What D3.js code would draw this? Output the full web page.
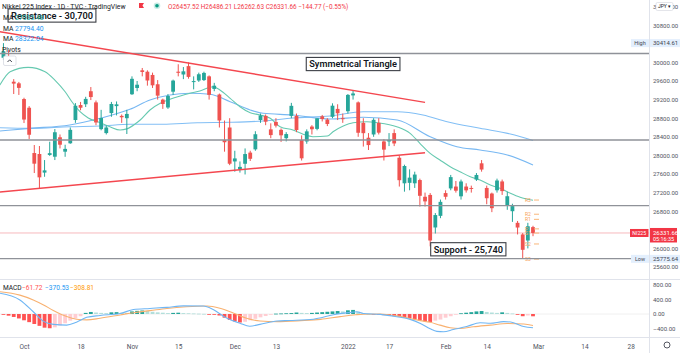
<!DOCTYPE html>
<html>
<head>
<meta charset="utf-8">
<script src="https://d3js.org/d3.v7.min.js"></script>
<style>
body{margin:0;background:#fff;}
text{font-family:Roboto,"Liberation Sans",sans-serif;}
</style>
</head>
<body>
<script>
// daily bars, Sep 27 2021 .. Feb 28 2022 : [date, open, high, low, close]
var ohlc = [
["2021-09-27",30100,30414.61,30050,30240],["2021-09-28",30200,30260,30080,30183],
["2021-09-29",29585,29640,29320,29544],["2021-09-30",29550,29580,29300,29452],
["2021-10-01",29212,29240,28696,28771],["2021-10-04",29025,29060,28353,28444],
["2021-10-05",28051,28223,27621,27822],["2021-10-06",28030,28202,27293,27528],
["2021-10-07",27630,27900,27540,27678],["2021-10-08",28010,28294,27990,28048],
["2021-10-11",27972,28567,27900,28498],["2021-10-12",28390,28450,28150,28230],
["2021-10-13",28080,28230,27970,28140],["2021-10-14",28260,28600,28250,28550],
["2021-10-15",28761,29125,28700,29068],["2021-10-18",29083,29150,28970,29025],
["2021-10-19",29100,29260,29040,29215],["2021-10-20",29380,29470,29190,29255],
["2021-10-21",29140,29180,28650,28708],["2021-10-22",28565,28980,28540,28804],
["2021-10-25",28480,28640,28450,28600],["2021-10-26",28910,29150,28830,29106],
["2021-10-27",29060,29160,28860,29098],["2021-10-28",28850,28880,28700,28820],
["2021-10-29",28800,28980,28460,28892],["2021-11-01",29315,29700,29300,29647],
["2021-11-02",29450,29600,29380,29520],["2021-11-04",29830,29880,29700,29794],
["2021-11-05",29800,29830,29500,29611],["2021-11-08",29730,29780,29450,29507],
["2021-11-09",29530,29620,29200,29285],["2021-11-10",29200,29220,29000,29106],
["2021-11-11",29030,29320,29000,29277],["2021-11-12",29370,29630,29300,29609],
["2021-11-15",29800,29960,29700,29776],["2021-11-16",29740,29900,29640,29808],
["2021-11-17",29920,30000,29650,29688],["2021-11-18",29590,29700,29420,29598],
["2021-11-19",29610,29780,29580,29745],["2021-11-22",29620,29800,29600,29774],
["2021-11-24",29700,29720,29200,29302],["2021-11-25",29430,29560,29380,29499],
["2021-11-26",29310,29330,28600,28751],["2021-11-29",28330,28750,28080,28283],
["2021-11-30",28600,28800,27790,27821],["2021-12-01",27870,28100,27650,27935],
["2021-12-02",27700,27870,27630,27753],["2021-12-03",27820,28150,27590,28029],
["2021-12-06",28060,28100,27880,27927],["2021-12-07",28130,28520,28100,28455],
["2021-12-08",28760,28900,28700,28860],["2021-12-09",28850,28880,28650,28725],
["2021-12-10",28560,28690,28370,28437],["2021-12-13",28720,28800,28600,28640],
["2021-12-14",28550,28580,28290,28432],["2021-12-15",28370,28500,28300,28459],
["2021-12-16",28850,29130,28800,29066],["2021-12-17",28850,28900,28500,28545],
["2021-12-20",28330,28430,27890,27937],["2021-12-21",28300,28560,28250,28517],
["2021-12-22",28620,28650,28450,28562],["2021-12-23",28570,28800,28540,28798],
["2021-12-24",28840,28870,28730,28782],["2021-12-27",28770,28800,28630,28676],
["2021-12-28",28830,29120,28800,29069],["2021-12-29",29000,29100,28760,28906],
["2021-12-30",28800,28900,28700,28791],["2022-01-04",28950,29320,28900,29301],
["2022-01-05",29290,29388,29200,29332],["2022-01-06",29140,29160,28400,28487],
["2022-01-07",28700,28800,28190,28478],["2022-01-11",28380,28480,28116,28222],
["2022-01-12",28450,28800,28400,28765],["2022-01-13",28700,28800,28450,28489],
["2022-01-14",28300,28350,27890,28124],["2022-01-17",28300,28480,28200,28333],
["2022-01-18",28480,28560,28200,28257],["2022-01-19",27950,28000,27330,27467],
["2022-01-20",27400,27800,27220,27772],["2022-01-21",27410,27700,27250,27522],
["2022-01-24",27400,27650,27300,27588],["2022-01-25",27470,27500,26900,27131],
["2022-01-26",27110,27200,26900,27011],["2022-01-27",27150,27190,26044,26170],
["2022-01-28",26450,26760,26320,26717],["2022-01-31",26700,27050,26650,27001],
["2022-02-01",27190,27250,27050,27110],["2022-02-02",27290,27580,27250,27533],
["2022-02-03",27330,27450,27200,27241],["2022-02-04",27120,27480,27050,27439],
["2022-02-07",27330,27400,27200,27248],["2022-02-08",27300,27350,27200,27284],
["2022-02-09",27480,27620,27450,27579],["2022-02-10",27830,27900,27650,27696],
["2022-02-14",27300,27350,26950,27079],["2022-02-15",27180,27200,26780,26865],
["2022-02-16",27250,27500,27200,27460],["2022-02-17",27440,27480,27150,27232],
["2022-02-18",26930,27220,26830,27122],["2022-02-21",26800,26960,26570,26910],
["2022-02-22",26550,26590,26300,26449],["2022-02-24",26300,26330,25775.64,25970],
["2022-02-25",26170,26550,26000,26476],["2022-02-28",26457.52,26486.21,26262.63,26331.66]
];

var sma20 = [[-0.7,29513],[1.3,29800],[4.8,29894],[8.1,29800],[10,29621],[12,29369],[13.5,29126],
  [14.9,28939],[16.5,28804],[18.8,28703],[20.7,28617],[22.7,28546],[24,28570],[25.6,28675],
  [26.6,28761],[28.5,28976],[30.5,29120],[32.4,29206],[34.4,29277],[36.3,29335],[38.2,29384],
  [40.8,29477],[42.1,29406],[44.1,29228],[46,29047],[48,28918],[49.9,28870],[51.9,28798],
  [53.8,28617],[56.3,28546],[58.3,28454],[60.2,28402],[63,28417],[64.1,28509],[66.1,28632],
  [68,28703],[70.7,28724],[72.7,28703],[76.5,28617],[79.1,28475],[81,28260],[83,28045],
  [84.9,27901],[86.9,27757],[88.8,27649],[90.8,27541],[92.7,27471],[94.7,27363],[96.6,27292],
  [98.6,27184],[100.5,27099],[103,27035.48]];
var sma50 = [[-0.7,28525],[5.2,28582],[12.9,28654],[18.8,28798],[24.6,28991],[28.5,29191],
  [32.4,29299],[36.3,29335],[40.2,29314],[44.1,29154],[48,28976],[50.5,28905],[56.3,28869],
  [63.5,28783],[70,28819],[76.6,28761],[83,28402],[88.2,28187],[92.7,28116],[98,28009],[103,27794.4]];
var sma100 = [[-0.7,28595],[5.2,28582],[12.9,28617],[18.8,28632],[24.6,28669],[31,28669],
  [37.7,28703],[44.1,28712],[50.5,28740],[56.3,28804],[63.5,28847],[70,28939],[76.6,28939],
  [81.6,28869],[86.3,28724],[92.7,28583],[98.6,28460],[103,28322.04]];

// MACD pane
var macdLine = [[-0.7,560],[3.2,380],[5.8,60],[7.8,-200],[9.7,-280],[12.3,-300],[14.2,-220],
  [16.2,-90],[18.8,-40],[22.7,15],[25.3,120],[28.5,150],[31.8,180],[35,220],[38.9,215],[40.8,120],
  [43.4,-110],[46,-250],[47.9,-330],[49.9,-280],[53.2,-190],[55.7,-175],[60.3,-140],[64.2,-20],
  [67.4,40],[68.7,60],[70,15],[73.3,-10],[76.5,-75],[79.1,-145],[81.1,-255],[83,-400],[84.3,-470],
  [85.6,-480],[87.5,-420],[90.1,-340],[92.7,-235],[94.7,-250],[97.3,-205],[99.2,-235],[101.2,-340],
  [103,-370.53]];
var signalLine = [[-0.7,600],[3.2,510],[5.8,380],[7.8,245],[9.7,95],[12.3,-70],[14.2,-140],
  [16.2,-160],[18.8,-115],[22.7,-25],[25.3,35],[28.5,90],[31.8,150],[35.6,195],[39.6,215],
  [42.1,155],[44.8,20],[47.3,-115],[49.9,-190],[53.2,-205],[57.8,-180],[61.7,-145],[65.5,-70],
  [68.5,-20],[70,-5],[73.3,0],[76.5,-50],[79.1,-120],[81.1,-180],[83,-225],[84.9,-300],
  [86.9,-370],[88.8,-390],[91.4,-345],[94.7,-300],[98,-255],[101.2,-270],[103,-308.81]];
var macdHist = [-20,-45,-80,-120,-170,-220,-270,-320,-370,-385,-360,-310,-250,-180,-120,-60,
  30,55,40,30,25,45,50,35,30,70,85,95,80,60,45,35,25,30,35,25,20,15,10,5,
  -10,-15,-40,-100,-160,-200,-230,-210,-170,-130,-90,-55,-20,10,15,20,25,40,30,25,
  30,40,50,60,70,80,70,100,110,60,20,5,-10,-20,-30,-50,-60,-70,-100,-110,
  -140,-170,-195,-215,-180,-150,-100,-60,-20,20,35,50,70,80,55,40,30,45,30,15,
  -10,-60,-40,-61.72];

// drawings
var levels = [30190, 28330, 26920, 25780];
var upperTrend = [[-0.7,30659],[82,29141]];
var lowerTrend = [[-0.7,27213],[82,28058]];
var pivotNames = ["R3","R2","R1","P","S1","S2","S3"];
var pivotVals = [27040, 26735, 26625, 26420, 26330, 26095, 25770];
var notes = [
  {text:"Resistance - 30,700", bar:0.9, price:31008},
  {text:"Symmetrical Triangle", bar:58.9, price:29965},
  {text:"Support - 25,740", bar:83.1, price:25981}
];

// axes
var priceTicks = [25600,26000,26800,27200,27600,28000,28400,28800,29200,29600,30000,30800,31200];
var macdTicks = [800,400,0,-400];
var timeBars = [4,15,25,34,45,53,67,75,86,94,104,113,122];
var timeLabels = ["Oct","18","Nov","15","Dec","13","2022","17","Feb","14","Mar","14","28"];

var W = 680, H = 353, axisX = 649;
var red = "#ef5350", green = "#26a69a";

var svg = d3.select("body").append("svg").attr("width", W).attr("height", H)
    .style("background", "#fff");

var x = d3.scaleLinear().domain([0, 103]).range([3.44, 533]);
var y = d3.scaleLinear().domain([25600, 30800]).range([267, 25.2]);
var ym = d3.scaleLinear().domain([-400, 800]).range([328.8, 284.4]);

var defs = svg.append("defs");
defs.append("clipPath").attr("id", "mainClip").append("rect")
    .attr("x", 0).attr("y", 0).attr("width", axisX).attr("height", 278);
defs.append("clipPath").attr("id", "macdClip").append("rect")
    .attr("x", 0).attr("y", 280).attr("width", axisX).attr("height", 57);

var main = svg.append("g").attr("clip-path", "url(#mainClip)");
var pane = svg.append("g").attr("clip-path", "url(#macdClip)");

//pane separators
svg.append("line").attr("x1", 0).attr("x2", W).attr("y1", 279.5).attr("y2", 279.5).attr("stroke", "#e0e3eb");
svg.append("line").attr("x1", 0).attr("x2", W).attr("y1", 337.5).attr("y2", 337.5).attr("stroke", "#e0e3eb");
svg.append("line").attr("x1", axisX + 0.5).attr("x2", axisX + 0.5).attr("y1", 0).attr("y2", H).attr("stroke", "#e0e3eb");

//last price line
var last = ohlc[ohlc.length - 1];
main.append("line").attr("x1", 0).attr("x2", axisX).attr("y1", y(last[4])).attr("y2", y(last[4]))
    .attr("stroke", "#f7b9bd").attr("stroke-width", 1);

//moving averages
var maLine = d3.line().x(function(d){ return x(d[0]); }).y(function(d){ return y(d[1]); })
    .curve(d3.curveMonotoneX);
main.append("path").attr("d", maLine(sma100)).attr("fill", "none").attr("stroke", "#82bff5").attr("stroke-width", 1.1);
main.append("path").attr("d", maLine(sma50)).attr("fill", "none").attr("stroke", "#78b8f2").attr("stroke-width", 1.1);
main.append("path").attr("d", maLine(sma20)).attr("fill", "none").attr("stroke", "#66c9b0").attr("stroke-width", 1.1);

//candles
var candles = main.selectAll(".candle").data(ohlc).enter().append("g").attr("class", "candle");
candles.append("line")
    .attr("x1", function(d, i){ return x(i); }).attr("x2", function(d, i){ return x(i); })
    .attr("y1", function(d){ return y(d[2]); }).attr("y2", function(d){ return y(d[3]); })
    .attr("stroke", function(d){ return d[4] >= d[1] ? green : red; }).attr("stroke-width", 1);
candles.append("rect")
    .attr("x", function(d, i){ return x(i) - 1.9; })
    .attr("width", 3.8)
    .attr("y", function(d){ return y(Math.max(d[1], d[4])); })
    .attr("height", function(d){ return Math.max(1, Math.abs(y(d[1]) - y(d[4]))); })
    .attr("fill", function(d){ return d[4] >= d[1] ? green : red; });

//pivot labels for the current week
var pv = main.selectAll(".pivot").data(pivotVals).enter().append("g").attr("class", "pivot");
pv.append("line").attr("x1", x(103) + 1).attr("x2", x(103) + 6)
    .attr("y1", function(d){ return y(d); }).attr("y2", function(d){ return y(d); })
    .attr("stroke", "#f9b67a").attr("stroke-width", 1);
pv.append("text").attr("x", x(103) - 8).attr("y", function(d){ return y(d) + 2; })
    .attr("font-size", 5).attr("fill", "#f7a25a")
    .text(function(d, i){ return pivotNames[i]; });

//horizontal levels
main.selectAll(".level").data(levels).enter().append("line").attr("class", "level")
    .attr("x1", 0).attr("x2", axisX)
    .attr("y1", function(d){ return y(d); }).attr("y2", function(d){ return y(d); })
    .attr("stroke", "#8f9299").attr("stroke-width", 1.4);

//triangle lines
var tl = d3.line().x(function(d){ return x(d[0]); }).y(function(d){ return y(d[1]); });
[upperTrend, lowerTrend].forEach(function(t){
    main.append("path").attr("d", tl(t)).attr("stroke", "#f4474f").attr("stroke-width", 1.4).attr("fill", "none");
});

//text notes in boxes
notes.forEach(function(n){
    var g = svg.append("g");
    var t = g.append("text").attr("x", x(n.bar) + 3).attr("y", y(n.price) + 3.3)
        .attr("font-size", 9.2).attr("font-weight", 600).attr("fill", "#131722").text(n.text);
    var w = t.node().getComputedTextLength();
    g.insert("rect", "text").attr("x", x(n.bar)).attr("y", y(n.price) - 6.6)
        .attr("width", w + 6).attr("height", 13.2)
        .attr("fill", "#fff").attr("stroke", "#3b3e45").attr("stroke-width", 1.1);
});

//MACD histogram and lines
pane.append("line").attr("x1", 0).attr("x2", axisX).attr("y1", ym(0)).attr("y2", ym(0))
    .attr("stroke", "#f0f0f0");
pane.selectAll(".hist").data(macdHist).enter().append("rect").attr("class", "hist")
    .attr("x", function(d, i){ return x(i) - 1.9; })
    .attr("width", 3.8)
    .attr("y", function(d){ return ym(Math.max(0, d)); })
    .attr("height", function(d){ return Math.max(0.8, Math.abs(ym(d) - ym(0))); })
    .attr("fill", function(d, i){
        var prev = i > 0 ? macdHist[i - 1] : d;
        if (d >= 0) return d >= prev ? "#26a69a" : "#b2dfdb";
        return d <= prev ? "#ff5252" : "#ffcdd2";
    });
var mLine = d3.line().x(function(d){ return x(d[0]); }).y(function(d){ return ym(d[1]); })
    .curve(d3.curveMonotoneX);
pane.append("path").attr("d", mLine(signalLine)).attr("fill", "none").attr("stroke", "#f8b170").attr("stroke-width", 1.1);
pane.append("path").attr("d", mLine(macdLine)).attr("fill", "none").attr("stroke", "#6fb6f4").attr("stroke-width", 1.1);

//price axis
var yAxis = d3.axisRight(y).tickValues(priceTicks).tickSize(0).tickPadding(4).tickFormat(d3.format(".2f"));
var ya = svg.append("g").attr("transform", "translate(" + axisX + ",0)").call(yAxis);
ya.select(".domain").remove();
ya.selectAll("text").attr("font-size", 6).attr("fill", "#50535e").attr("font-family", "Roboto,sans-serif");

var mAxis = d3.axisRight(ym).tickValues(macdTicks).tickSize(0).tickPadding(4)
    .tickFormat(function(d){ return d3.format(".2f")(d).replace("\u2212", "\u2013"); });
var ma = svg.append("g").attr("transform", "translate(" + axisX + ",0)").call(mAxis);
ma.select(".domain").remove();
ma.selectAll("text").attr("font-size", 6).attr("fill", "#50535e").attr("font-family", "Roboto,sans-serif");

//time axis
var xAxis = d3.axisBottom(x).tickValues(timeBars).tickSize(0).tickPadding(6)
    .tickFormat(function(d, i){ return timeLabels[i]; });
var xa = svg.append("g").attr("transform", "translate(0,338)").call(xAxis);
xa.select(".domain").remove();
xa.selectAll("text").attr("font-size", 6.5).attr("fill", "#50535e").attr("font-family", "Roboto,sans-serif");

//axis labels: high, low, last price
function axisTag(value, name, bg, fg, nameBg){
    var yy = y(value);
    svg.append("rect").attr("x", 631).attr("y", yy - 4).attr("width", 18).attr("height", 8).attr("fill", nameBg);
    svg.append("text").attr("x", 640).attr("y", yy + 2).attr("text-anchor", "middle")
        .attr("font-size", 5.5).attr("fill", fg).text(name);
    svg.append("rect").attr("x", axisX + 1).attr("y", yy - 4).attr("width", W - axisX - 1).attr("height", 8).attr("fill", bg);
    svg.append("text").attr("x", axisX + 4).attr("y", yy + 2.1).attr("font-size", 6).attr("fill", fg)
        .text(d3.format(".2f")(value));
}
axisTag(30414.61, "High", "#e3effd", "#434651", "#e3effd");
axisTag(25775.64, "Low", "#e3effd", "#434651", "#e3effd");

var ly = y(last[4]);
svg.append("rect").attr("x", 630).attr("y", ly - 4).attr("width", 18.5).attr("height", 8).attr("fill", "#f23645");
svg.append("text").attr("x", 639.2).attr("y", ly + 2).attr("text-anchor", "middle")
    .attr("font-size", 5.2).attr("fill", "#fff").text("NI225");
svg.append("rect").attr("x", axisX + 1).attr("y", ly - 5).attr("width", 27).attr("height", 14.5).attr("fill", "#f23645");
svg.append("text").attr("x", axisX + 4).attr("y", ly + 2.1).attr("font-size", 6).attr("fill", "#fff")
    .text(d3.format(".2f")(last[4]));
svg.append("text").attr("x", axisX + 4).attr("y", ly + 8).attr("font-size", 5.5).attr("fill", "#fff")
    .text("05:16:35");

//currency button and settings icon
svg.append("rect").attr("x", 656).attr("y", 2.5).attr("width", 17).attr("height", 8).attr("rx", 1.5)
    .attr("fill", "#fff").attr("stroke", "#d1d4dc").attr("stroke-width", 0.6);
svg.append("text").attr("x", 664.5).attr("y", 8.3).attr("text-anchor", "middle")
    .attr("font-size", 5).attr("fill", "#131722").text("JPY \u25BE");
svg.append("circle").attr("cx", 667).attr("cy", 345).attr("r", 3).attr("fill", "none")
    .attr("stroke", "#434651").attr("stroke-width", 0.9);

//legend
var leg = svg.append("g").attr("font-size", 6.8);
leg.append("text").attr("x", 2).attr("y", 8.5).attr("fill", "#131722")
    .text("Nikkei 225 Index \u00B7 1D \u00B7 TVC \u00B7 TradingView");
leg.append("path").attr("d", "M139,3 h5 l-1.5,2.5 l1.5,2.5 h-5 z").attr("fill", "#f23645");
leg.append("circle").attr("cx", 157).attr("cy", 5.8).attr("r", 3.3).attr("fill", "#c8ebe5");
leg.append("circle").attr("cx", 157).attr("cy", 5.8).attr("r", 1.8).attr("fill", "#089981");
leg.append("text").attr("x", 168).attr("y", 8.5).attr("font-size", 6.4).attr("fill", "#f23645")
    .text("O" + d3.format(".2f")(last[1]) + " H" + d3.format(".2f")(last[2]) + " L" + d3.format(".2f")(last[3]) +
          " C" + d3.format(".2f")(last[4]) + " \u2212144.77 (\u22120.55%)");
var maRows = [["27035.48", "#26a69a", 19.5], ["27794.40", "#2196f3", 30.5], ["28322.04", "#2196f3", 41.2]];
maRows.forEach(function(r){
    leg.append("text").attr("x", 3).attr("y", r[2]).attr("fill", "#131722").text("MA");
    leg.append("text").attr("x", 15).attr("y", r[2]).attr("fill", r[1]).text(r[0]);
});
leg.append("text").attr("x", 2).attr("y", 52).attr("fill", "#131722").text("Pivots");
leg.append("rect").attr("x", 3.5).attr("y", 56).attr("width", 12.5).attr("height", 9.5).attr("rx", 1.5)
    .attr("fill", "#fff").attr("stroke", "#d1d4dc").attr("stroke-width", 0.7);
leg.append("path").attr("d", "M7.5,62 l2.2,-2.2 l2.2,2.2").attr("fill", "none").attr("stroke", "#131722").attr("stroke-width", 0.8);

//MACD legend
var ml = svg.append("g").attr("font-size", 6.6);
ml.append("text").attr("x", 3).attr("y", 289.5).attr("fill", "#131722").text("MACD");
ml.append("text").attr("x", 22).attr("y", 289.5).attr("fill", "#ff5252").text("\u221261.72");
ml.append("text").attr("x", 45).attr("y", 289.5).attr("fill", "#2196f3").text("\u2212370.53");
ml.append("text").attr("x", 70).attr("y", 289.5).attr("fill", "#ff9800").text("\u2212308.81");
</script>
</body>
</html>
